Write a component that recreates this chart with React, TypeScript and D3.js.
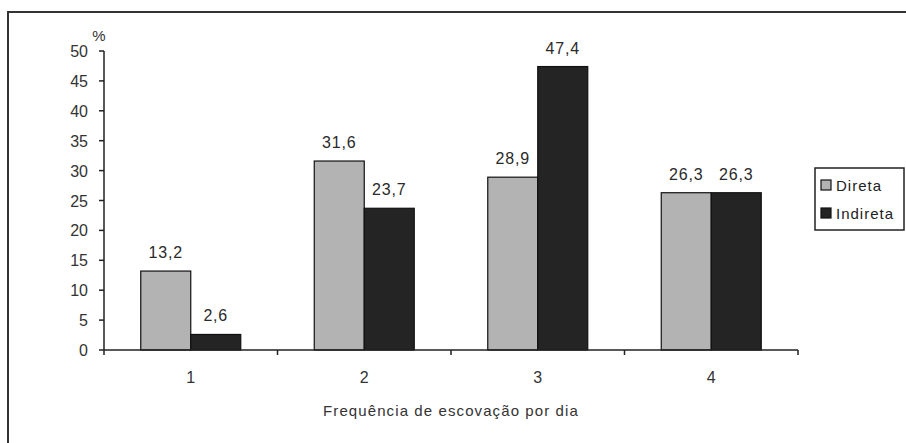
import React from "react";
import * as d3 from "d3";

const categories = ["1", "2", "3", "4"];
const seriesNames = ["Direta", "Indireta"];
const direta = [13.2, 31.6, 28.9, 26.3];
const indireta = [2.6, 23.7, 47.4, 26.3];
const yTicks = [0, 5, 10, 15, 20, 25, 30, 35, 40, 45, 50];
const xTitle = "Frequência de escovação por dia";
const yUnit = "%";

const colors = ["#b3b3b3", "#242424"];
const font = "Arial, 'Liberation Sans', sans-serif";

export default function App() {
  const W = 906, H = 443;
  const left = 104, right = 798, top = 51, bottom = 350;
  const x = d3.scaleBand<string>().domain(categories).range([left, right]).padding(0);
  const y = d3.scaleLinear().domain([0, 50]).range([bottom, top]);
  const barW = 50;
  const series = [direta, indireta];
  const fmt = (v: number) => v.toFixed(1).replace(".", ",");

  return (
    <svg width={W} height={H} style={{ position: "absolute", left: 0, top: 0, background: "#fff" }} fontFamily={font}>
      <rect x={0} y={0} width={W} height={H} fill="#fff" />
      <rect x={8} y={12} width={W + 20} height={H + 20} fill="none" stroke="#333" strokeWidth={2} />
      {/* bars */}
      {categories.map((c, i) => {
        const cx = (x(c) as number) + x.bandwidth() / 2;
        return series.map((s, j) => {
          const bx = cx - barW + j * barW;
          return (
            <g key={c + j}>
              <rect x={bx} y={y(s[i])} width={barW} height={bottom - y(s[i])} fill={colors[j]} stroke="#111" strokeWidth={1.2} />
              <text x={bx + barW / 2} y={y(s[i]) - 13} textAnchor="middle" fontSize={16} letterSpacing={0.8} fill="#2a2a2a">{fmt(s[i])}</text>
            </g>
          );
        });
      })}
      {/* y axis */}
      <line x1={left} x2={left} y1={top} y2={bottom} stroke="#222" strokeWidth={1.5} />
      {yTicks.map((t) => (
        <g key={t}>
          <line x1={left - 5} x2={left} y1={y(t)} y2={y(t)} stroke="#222" strokeWidth={1.5} />
          <text x={left - 16} y={y(t) + 6} textAnchor="end" fontSize={16} fill="#333">{t}</text>
        </g>
      ))}
      <text x={99} y={41} textAnchor="middle" fontSize={15} fill="#333">{yUnit}</text>
      {/* x axis */}
      <line x1={left} x2={right} y1={bottom} y2={bottom} stroke="#222" strokeWidth={1.5} />
      {categories.map((c, i) => (
        <g key={c}>
          <line x1={(x(c) as number) + x.bandwidth()} x2={(x(c) as number) + x.bandwidth()} y1={bottom} y2={bottom + 5} stroke="#222" strokeWidth={1.5} />
          <text x={(x(c) as number) + x.bandwidth() / 2} y={383} textAnchor="middle" fontSize={16} fill="#333">{c}</text>
        </g>
      ))}
      <line x1={left} x2={left} y1={bottom} y2={bottom + 5} stroke="#222" strokeWidth={1.5} />
      <text x={(left + right) / 2} y={416} textAnchor="middle" fontSize={15} fill="#333" letterSpacing={1.1}>{xTitle}</text>
      {/* legend */}
      <rect x={815} y={168} width={89} height={62} fill="#fff" stroke="#222" strokeWidth={1.5} />
      {seriesNames.map((n, j) => (
        <g key={n}>
          <rect x={821} y={180 + j * 28} width={10} height={10} fill={colors[j]} stroke="#111" strokeWidth={1.2} />
          <text x={836} y={191 + j * 28} fontSize={15} letterSpacing={1} fill="#222">{n}</text>
        </g>
      ))}
    </svg>
  );
}
